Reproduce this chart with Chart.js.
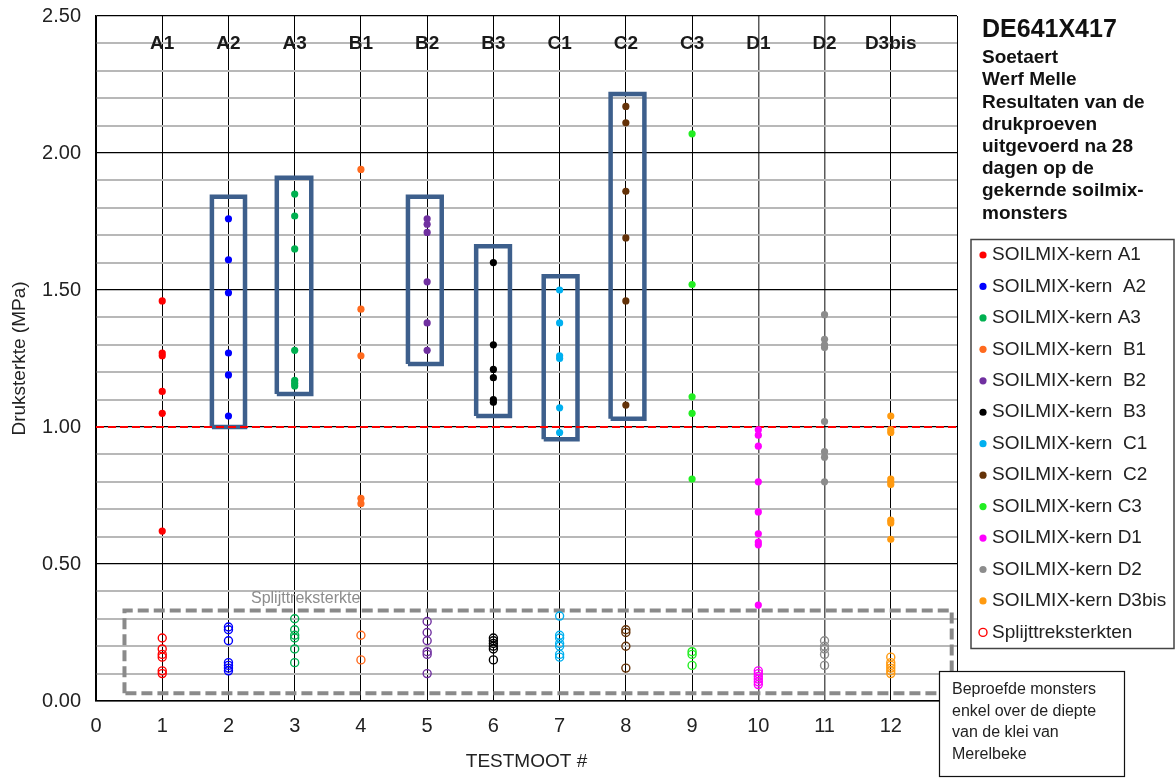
<!DOCTYPE html>
<html><head><meta charset="utf-8">
<script src="https://cdn.jsdelivr.net/npm/chart.js@4.4.1/dist/chart.umd.min.js"></script>
<style>html,body{margin:0;padding:0;background:#fff;}canvas{display:block;}</style>
</head><body>
<canvas id="c" width="1176" height="778"></canvas>
<script>
// ---------- DATA ----------
const categories = ['A1','A2','A3','B1','B2','B3','C1','C2','C3','D1','D2','D3bis'];
const testmoot   = [1,2,3,4,5,6,7,8,9,10,11,12];
const legendLabels = ['SOILMIX-kern A1','SOILMIX-kern  A2','SOILMIX-kern A3','SOILMIX-kern  B1','SOILMIX-kern  B2','SOILMIX-kern  B3','SOILMIX-kern  C1','SOILMIX-kern  C2','SOILMIX-kern C3','SOILMIX-kern D1','SOILMIX-kern D2','SOILMIX-kern D3bis'];
const splitLegendLabel = 'Splijttreksterkten';

// compressive strength (MPa) per core
const drukA1 = [1.46, 1.27, 1.26, 1.13, 1.05, 0.62];
const drukA2 = [1.76, 1.61, 1.49, 1.27, 1.19, 1.04];
const drukA3 = [1.85, 1.77, 1.65, 1.28, 1.17, 1.16, 1.15];
const drukB1 = [1.94, 1.43, 1.26, 0.74, 0.72];
const drukB2 = [1.76, 1.74, 1.71, 1.53, 1.38, 1.28];
const drukB3 = [1.60, 1.30, 1.21, 1.18, 1.10, 1.09];
const drukC1 = [1.50, 1.38, 1.26, 1.25, 1.07, 0.98];
const drukC2 = [2.17, 2.11, 1.86, 1.69, 1.46, 1.08];
const drukC3 = [2.07, 1.52, 1.11, 1.05, 0.81];
const drukD1 = [0.99, 0.97, 0.93, 0.80, 0.69, 0.61, 0.58, 0.57, 0.35];
const drukD2 = [1.41, 1.32, 1.30, 1.29, 1.02, 0.91, 0.89, 0.80];
const drukD3bis = [1.04, 0.99, 0.98, 0.81, 0.80, 0.79, 0.66, 0.65, 0.59];

// split tensile strength (MPa) per core
const splitA1 = [0.23, 0.19, 0.17, 0.16, 0.11, 0.10];
const splitA2 = [0.27, 0.26, 0.22, 0.14, 0.13, 0.12, 0.11];
const splitA3 = [0.30, 0.26, 0.24, 0.23, 0.19, 0.14];
const splitB1 = [0.24, 0.15];
const splitB2 = [0.29, 0.25, 0.22, 0.18, 0.17, 0.10];
const splitB3 = [0.23, 0.22, 0.21, 0.20, 0.19, 0.15];
const splitC1 = [0.31, 0.24, 0.23, 0.21, 0.20, 0.17, 0.16];
const splitC2 = [0.26, 0.25, 0.20, 0.12];
const splitC3 = [0.18, 0.17, 0.13];
const splitD1 = [0.11, 0.10, 0.09, 0.08, 0.07, 0.06];
const splitD2 = [0.22, 0.20, 0.19, 0.17, 0.13];
const splitD3bis = [0.16, 0.14, 0.13, 0.12, 0.11, 0.10];

// highlighted groups (x range in TESTMOOT units, y range in MPa)
const boxLeft  = [1.75, 2.73, 4.71, 5.74, 6.76, 7.77];
const boxRight = [2.25, 3.25, 5.22, 6.25, 7.27, 8.28];
const boxLow   = [1.00, 1.12, 1.23, 1.04, 0.955, 1.03];
const boxHigh  = [1.84, 1.91, 1.84, 1.66, 1.55, 2.215];

const limitValue = 1.0;
const splitZoneX = [0.43, 12.92];
const splitZoneY = [0.028, 0.33];

const titleLines = ['Soetaert','Werf Melle','Resultaten van de','drukproeven','uitgevoerd na 28','dagen op de','gekernde soilmix-','monsters'];
const noteLines = ['Beproefde monsters','enkel over de diepte','van de klei van','Merelbeke'];

// ---------- STYLES ----------
const colors = ['#FF0000','#0000FF','#00B050','#FF6A1E','#7030A0','#000000','#00B0F0','#643208','#22EE22','#FF00FF','#8C8C8C','#FF9A10'];
const FONT = '"Liberation Sans", Arial, sans-serif';

const drukValues  = [drukA1,drukA2,drukA3,drukB1,drukB2,drukB3,drukC1,drukC2,drukC3,drukD1,drukD2,drukD3bis];
const splitValues = [splitA1,splitA2,splitA3,splitB1,splitB2,splitB3,splitC1,splitC2,splitC3,splitD1,splitD2,splitD3bis];

const datasets = [];
drukValues.forEach((vals,i)=>{
  datasets.push({label: legendLabels[i], data: vals.map(v=>({x:testmoot[i], y:v})),
    pointRadius:3.6, pointBackgroundColor:colors[i], pointBorderWidth:0, showLine:false, order:0});
});
splitValues.forEach((vals,i)=>{
  datasets.push({label: splitLegendLabel+' '+categories[i], data: vals.map(v=>({x:testmoot[i], y:v})),
    pointRadius:4, pointBackgroundColor:'rgba(0,0,0,0)', pointBorderColor:colors[i], pointBorderWidth:1.4, showLine:false, order:1});
});
boxLeft.forEach((l,i)=>{
  const r = boxRight[i], lo = boxLow[i], hi = boxHigh[i];
  datasets.push({label:'box', data:[{x:l,y:lo},{x:l,y:hi},{x:r,y:hi},{x:r,y:lo},{x:l,y:lo}],
    showLine:true, borderColor:'#3D5F8C', borderWidth:4.5, pointRadius:0, fill:false, order:3, borderJoinStyle:'miter'});
});
datasets.push({label:'limit', data:[{x:0,y:limitValue},{x:13,y:limitValue}], showLine:true,
  borderColor:'#FF0000', borderWidth:2, borderDash:[8,4], pointRadius:0, order:2});
datasets.push({label:'splitzone', data:[{x:splitZoneX[0],y:splitZoneY[0]},{x:splitZoneX[0],y:splitZoneY[1]},{x:splitZoneX[1],y:splitZoneY[1]},{x:splitZoneX[1],y:splitZoneY[0]},{x:splitZoneX[0],y:splitZoneY[0]}],
  showLine:true, borderColor:'#8A8A8A', borderWidth:4, borderDash:[11,5], pointRadius:0, order:4});

const overlay = {
  id:'overlay',
  afterDatasetsDraw(chart){
    const {ctx, scales:{x,y}} = chart;
    ctx.save();
    ctx.font = 'bold 19px ' + FONT;
    ctx.fillStyle = '#1a1a1a'; ctx.textAlign = 'center'; ctx.textBaseline = 'middle';
    categories.forEach((c,i)=> ctx.fillText(c, x.getPixelForValue(testmoot[i]), y.getPixelForValue(2.4)));
    ctx.font = '16px ' + FONT; ctx.fillStyle = '#8C8C8C'; ctx.textAlign = 'left';
    ctx.fillText('Splijttreksterkte', x.getPixelForValue(2.34), y.getPixelForValue(0.372));
    ctx.restore();
  },
  afterDraw(chart){
    const ctx = chart.ctx;
    ctx.save();
    ctx.fillStyle = '#111'; ctx.textAlign = 'left'; ctx.textBaseline = 'middle';
    ctx.font = 'bold 25px ' + FONT;
    ctx.fillText('DE641X417', 982, 30);
    ctx.font = 'bold 19px ' + FONT;
    titleLines.forEach((t,i)=> ctx.fillText(t, 982, 58 + i*22.2));
    // legend
    ctx.strokeStyle = '#444'; ctx.lineWidth = 1.5;
    ctx.strokeRect(971, 239.5, 203, 409);
    ctx.font = '19px ' + FONT; ctx.fillStyle = '#222';
    legendLabels.forEach((t,i)=>{
      const yy = 255 + i*31.45;
      ctx.beginPath(); ctx.arc(983, yy, 3.6, 0, Math.PI*2); ctx.fillStyle = colors[i]; ctx.fill();
      ctx.fillStyle = '#222'; ctx.fillText(t, 992, yy);
    });
    const ys = 255 + 12*31.45;
    ctx.beginPath(); ctx.arc(983, ys, 4, 0, Math.PI*2); ctx.strokeStyle = colors[0]; ctx.lineWidth = 1.4; ctx.stroke();
    ctx.fillStyle = '#222'; ctx.fillText(splitLegendLabel, 992, ys);
    // note box
    ctx.fillStyle = '#fff'; ctx.fillRect(939, 671, 185, 106);
    ctx.strokeStyle = '#111'; ctx.lineWidth = 1.2; ctx.strokeRect(939.5, 671.5, 185, 105);
    ctx.font = '16px ' + FONT; ctx.fillStyle = '#222';
    noteLines.forEach((t,i)=> ctx.fillText(t, 952, 690 + i*21.4));
    ctx.restore();
  }
};

new Chart(document.getElementById('c'), {
  type:'scatter',
  data:{datasets},
  plugins:[overlay],
  options:{
    responsive:false, animation:false, devicePixelRatio:1,
    layout:{padding:{top:16, right:219, left:8, bottom:0}},
    plugins:{legend:{display:false}, tooltip:{enabled:false}},
    scales:{
      x:{type:'linear', min:0, max:13,
        afterFit(s){ s.height = 77; s.paddingLeft = 0; s.paddingRight = 0; },
        ticks:{stepSize:1, autoSkip:false, padding:13, color:'#222', font:{size:20, family:FONT},
          callback:(v)=> v===13 ? '' : String(v)},
        grid:{drawTicks:false, color:(c)=> (c.tick && (c.tick.value===10 || c.tick.value===11)) ? '#5a5a5a' : '#000', lineWidth:(c)=> (c.tick && (c.tick.value===10 || c.tick.value===11)) ? 1.5 : 1},
        border:{color:'#000', width:1.5},
        title:{display:true, text:'TESTMOOT #', color:'#222', font:{size:19, family:FONT}, padding:{top:4,bottom:5}}
      },
      y:{min:0, max:2.5,
        afterFit(s){ s.width = 88; s.paddingTop = 0; s.paddingBottom = 0; },
        ticks:{stepSize:0.1, autoSkip:false, padding:15, color:'#222', font:{size:20, family:FONT},
          callback:(v)=>{ const r = Math.round(v*10); return (r % 5 === 0) ? (r/10).toFixed(2) : ''; }},
        grid:{drawTicks:false,
          color:(c)=>{ if(!c.tick) return '#000'; const r = Math.round(c.tick.value*10); return r%5===0 ? '#000' : '#b8b8b8'; },
          lineWidth:(c)=>{ if(!c.tick) return 1; const r = Math.round(c.tick.value*10); return r%5===0 ? 1.2 : 2; }},
        border:{color:'#000', width:1.5},
        title:{display:true, text:'Druksterkte (MPa)', color:'#222', font:{size:19, family:FONT}, padding:{top:0,bottom:0}}
      }
    }
  }
});
</script>
</body></html>
